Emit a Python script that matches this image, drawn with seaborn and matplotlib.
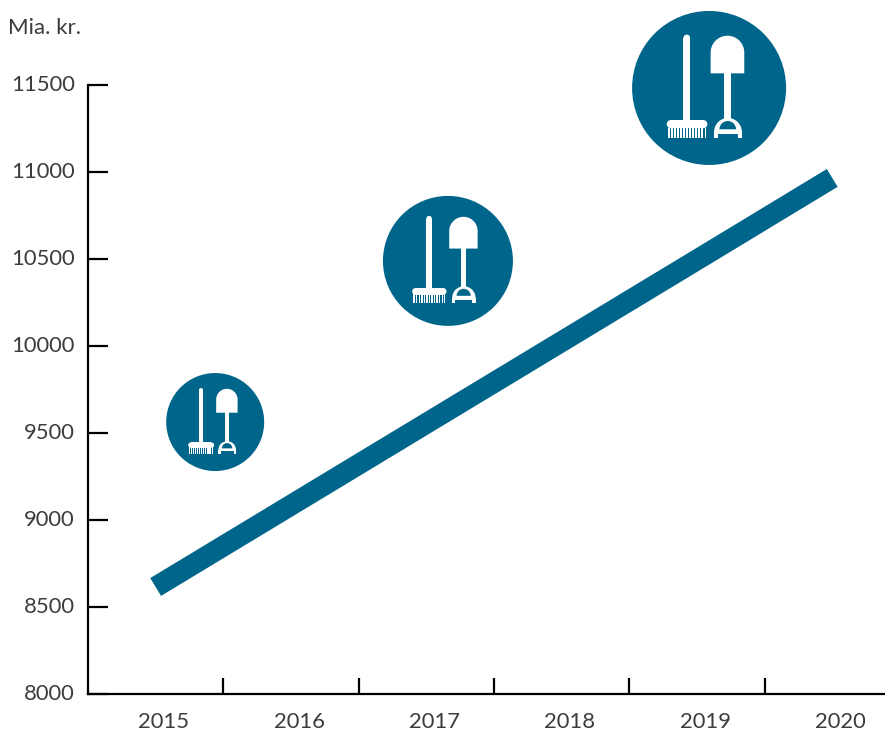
import numpy as np
import pandas as pd
import seaborn as sns
import matplotlib.pyplot as plt
from matplotlib.patches import Circle, Polygon, Rectangle, Wedge
from matplotlib.transforms import Affine2D, ScaledTranslation

years = ['2015', '2016', '2017', '2018', '2019', '2020']
values = [8615, 9085, 9555, 10025, 10495, 10966]
y_ticks = [8000, 8500, 9000, 9500, 10000, 10500, 11000, 11500]
# bubbles with the tools icon
bubble_x = [0.44, 2.16, 4.09]
bubble_y = [9563, 10489, 11483]
bubble_r = [49, 65, 77]

BLUE = '#00658a'
TXT = '#3c3c3c'

sns.set_theme(style='white')
plt.rcParams['font.family'] = ['Lato', 'DejaVu Sans']

W, H = 885, 733
fig = plt.figure(figsize=(W / 100, H / 100), dpi=100)
ax = fig.add_axes([88 / W, (H - 694) / H, (W - 88) / W, (694 - 85) / H])

df = pd.DataFrame({'pos': range(len(years)), 'value': values})
sns.lineplot(data=df, x='pos', y='value', color=BLUE, lw=15, ax=ax, solid_capstyle='butt')

ax.set_xlim(-0.5, 5.39)
ax.set_ylim(8000, 11500)
ax.set_xlabel('')
ax.set_ylabel('')
for s in ['top', 'right']:
    ax.spines[s].set_visible(False)
for s in ['left', 'bottom']:
    ax.spines[s].set_color('black')
    ax.spines[s].set_linewidth(1.6)

ax.set_yticks(y_ticks)
ax.set_yticklabels([str(v) for v in y_ticks], fontsize=15.8, color=TXT)
ax.tick_params(axis='y', which='major', direction='in', length=14.5, width=1.6, color='black',
               left=True, pad=9.5)
# the reference labels sit a bit above their ticks
up = ScaledTranslation(0, 2 / 72 * 0.72, fig.dpi_scale_trans)
for lab in ax.get_yticklabels():
    lab.set_transform(lab.get_transform() + up)

ax.set_xticks([i + 0.062 for i in range(len(years))])
ax.set_xticklabels(years, fontsize=15.8, color=TXT)
ax.set_xticks([i + 0.5 for i in range(5)], minor=True)
ax.tick_params(axis='x', which='major', length=0, pad=13)
ax.tick_params(axis='x', which='minor', direction='in', length=11.5, width=1.6, color='black', bottom=True)


def draw_icon(cx, cy, r):
    tr = Affine2D().scale(r).translate(cx, cy)
    white = dict(fc='white', ec='none', transform=tr, clip_on=False, zorder=5)
    teal = dict(fc=BLUE, ec='none', transform=tr, clip_on=False, zorder=6)
    # broom
    ax.add_patch(Rectangle((-0.333, -0.44), 0.086, 1.09, **white))
    ax.add_patch(Circle((-0.29, 0.65), 0.043, **white))
    ax.add_patch(Rectangle((-0.496, -0.524), 0.42, 0.108, **white))
    ax.add_patch(Circle((-0.496, -0.47), 0.054, **white))
    ax.add_patch(Circle((-0.076, -0.47), 0.054, **white))
    for i in range(13):
        ax.add_patch(Rectangle((-0.53 + i * 0.0392, -0.654), 0.022, 0.14, **white))
    # shovel blade as one shape, so no seam shows
    t = np.linspace(0, np.pi, 40)
    blade = np.column_stack([0.2385 + 0.2185 * np.cos(t), 0.46 + 0.2185 * np.sin(t)])
    blade = np.vstack([[0.457, 0.19], blade, [0.02, 0.19]])
    ax.add_patch(Polygon(blade, closed=True, **white))
    ax.add_patch(Rectangle((0.196, -0.42), 0.087, 0.62, **white))
    # D handle
    ax.add_patch(Wedge((0.245, -0.57), 0.18, 0, 180, **white))
    ax.add_patch(Wedge((0.242, -0.537), 0.108, 0, 180, **teal))
    ax.add_patch(Rectangle((0.065, -0.654), 0.05, 0.09, **white))
    ax.add_patch(Rectangle((0.375, -0.654), 0.05, 0.09, **white))
    ax.add_patch(Rectangle((0.065, -0.595), 0.36, 0.03, **white))


ax.scatter(bubble_x, bubble_y, s=[(2 * r * 0.72) ** 2 for r in bubble_r], color=BLUE,
           linewidths=0, clip_on=False, zorder=4)
for bx, by, br in zip(bubble_x, bubble_y, bubble_r):
    px, py = ax.transData.transform((bx, by))
    draw_icon(px, py, br)

fig.text(8 / W, 1 - 28 / H, 'Mia. kr.', fontsize=16, color=TXT, ha='left', va='center')

fig.savefig('out.png', dpi=100)
